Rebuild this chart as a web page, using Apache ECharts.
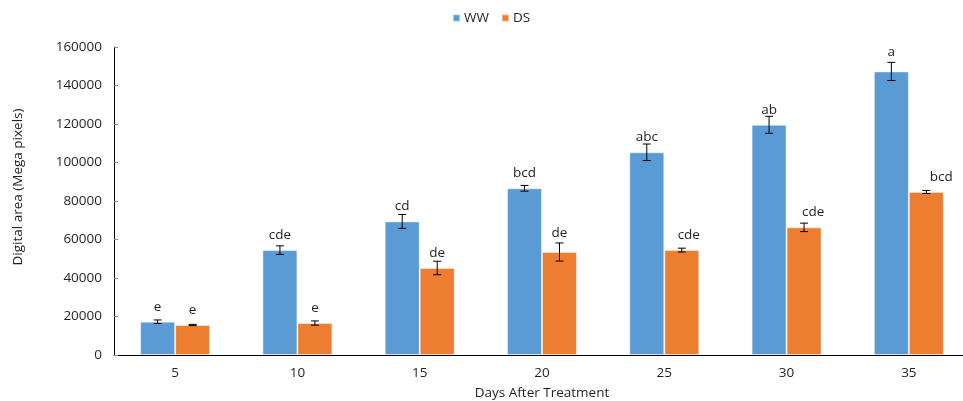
<!DOCTYPE html>
<html>
<head>
<meta charset="utf-8">
<script src="https://cdn.jsdelivr.net/npm/echarts@6/dist/echarts.min.js"></script>
<style>
html,body{margin:0;padding:0;background:#fff;}
#chart{width:963px;height:401px;}
</style>
</head>
<body>
<div id="chart"></div>
<script>
// ---- data ----
var categories = ['5', '10', '15', '20', '25', '30', '35'];
var seriesNames = ['WW', 'DS'];
var wwValues = [17300, 54500, 69400, 86600, 105300, 119600, 147300];
var wwErrors = [900, 2200, 3600, 1500, 4300, 4400, 4700];
var wwLetters = ['e', 'cde', 'cd', 'bcd', 'abc', 'ab', 'a'];
var dsValues = [15600, 16600, 45200, 53500, 54500, 66300, 84700];
var dsErrors = [300, 1100, 3500, 4700, 1000, 2200, 800];
var dsLetters = ['e', 'e', 'de', 'de', 'cde', 'cde', 'bcd'];
var yTicks = [0, 20000, 40000, 60000, 80000, 100000, 120000, 140000, 160000];
var yTitle = 'Digital area (Mega pixels)';
var xTitle = 'Days After Treatment';

// label nudges (layout only, pixels)
var wwNudge = [[0,0],[0,0],[0,0],[0,0],[0,0],[0,0],[0,-4]];
var dsNudge = [[0,0],[0,0],[0,0],[0,-4],[7,0],[9,0],[15,0]];

var FONT = '"Open Sans", sans-serif';
var TXT = '#231f20';
var BAR_W = 35;

function errorSeries(name, values, errors, letters, nudge, side) {
  return {
    type: 'custom',
    name: name + '_err',
    z: 5,
    silent: true,
    data: values.map(function (v, i) { return [i, v, errors[i]]; }),
    renderItem: function (params, api) {
      var i = api.value(0), v = api.value(1), e = api.value(2);
      var base = api.coord([i, v]);
      var x = base[0] + side * BAR_W / 2;
      var top = api.coord([i, v + e])[1];
      var bot = api.coord([i, v - e])[1];
      var cap = 4;
      var st = { stroke: '#000', lineWidth: 1 };
      var nd = nudge[i];
      return {
        type: 'group',
        children: [
          { type: 'line', shape: { x1: x, y1: top, x2: x, y2: bot }, style: st },
          { type: 'line', shape: { x1: x - cap, y1: top, x2: x + cap, y2: top }, style: st },
          { type: 'line', shape: { x1: x - cap, y1: bot, x2: x + cap, y2: bot }, style: st },
          { type: 'text', style: {
              text: letters[i], x: x + nd[0], y: base[1] - 15 + nd[1],
              textAlign: 'center', textVerticalAlign: 'middle',
              fill: TXT, font: '13.5px ' + FONT } }
        ]
      };
    }
  };
}

var chart = echarts.init(document.getElementById('chart'));
chart.setOption({
  animation: false,
  textStyle: { fontFamily: FONT },
  color: ['#5b9bd5', '#ed7d31'],
  legend: {
    data: seriesNames,
    left: 447, top: 6,
    icon: 'rect', itemWidth: 7, itemHeight: 7, itemGap: 12,
    textStyle: { fontSize: 13.5, color: TXT, fontFamily: FONT, padding: [0, 0, 0, -1] }
  },
  grid: { left: 114, top: 47, width: 856, height: 308, outerBoundsMode: 'none', containLabel: false },
  xAxis: {
    type: 'category',
    data: categories,
    axisLine: { lineStyle: { color: '#000', width: 1 } },
    axisTick: { inside: true, length: 5, lineStyle: { color: '#8c8c8c' } },
    axisLabel: { color: TXT, fontSize: 13.5, margin: 11, fontFamily: FONT },
    name: xTitle, nameLocation: 'middle', nameGap: 31,
    nameTextStyle: { color: TXT, fontSize: 13.5, fontFamily: FONT }
  },
  yAxis: {
    type: 'value',
    min: yTicks[0], max: yTicks[yTicks.length - 1], interval: yTicks[1] - yTicks[0],
    axisLine: { show: true, lineStyle: { color: '#000', width: 1 } },
    axisTick: { show: true, inside: true, length: 4, lineStyle: { color: '#8c8c8c' } },
    splitLine: { show: false },
    axisLabel: { color: TXT, fontSize: 13.5, margin: 12, fontFamily: FONT,
      formatter: function (v) { return String(v); } }
  },
  graphic: [{
    type: 'text', x: 18, y: 187, rotation: Math.PI / 2,
    style: { text: yTitle, textAlign: 'center', textVerticalAlign: 'middle',
      fill: TXT, font: '13.5px ' + FONT }
  }],
  series: [
    { type: 'bar', name: seriesNames[0], data: wwValues, barWidth: BAR_W, barGap: '0%',
      itemStyle: { borderColor: 'rgba(255,255,255,0.45)', borderWidth: 1 } },
    { type: 'bar', name: seriesNames[1], data: dsValues, barWidth: BAR_W, barGap: '0%',
      itemStyle: { borderColor: 'rgba(255,255,255,0.45)', borderWidth: 1 } },
    errorSeries('WW', wwValues, wwErrors, wwLetters, wwNudge, -1),
    errorSeries('DS', dsValues, dsErrors, dsLetters, dsNudge, 1)
  ]
});
</script>
</body>
</html>
